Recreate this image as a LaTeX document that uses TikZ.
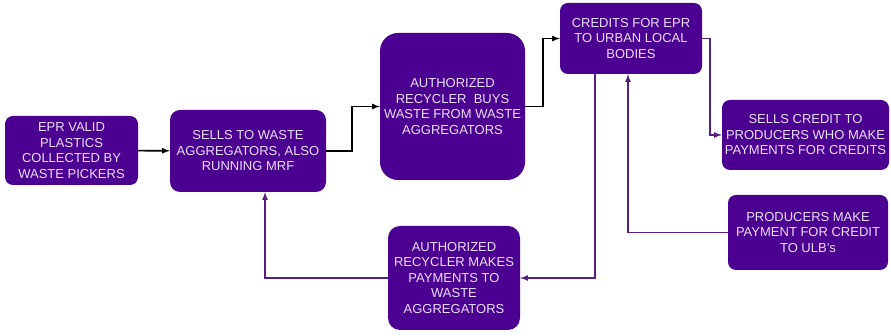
\documentclass[tikz,border=0pt]{standalone}
\usepackage{fontspec}
\setmainfont{Liberation Sans}
\definecolor{boxpurple}{RGB}{76,0,146}
\definecolor{boxtext}{RGB}{232,224,244}
\definecolor{linepurple}{RGB}{88,30,130}
\tikzset{>=latex}
\tikzset{
  stepbox/.style={fill=boxpurple, text=boxtext, rounded corners=8pt, align=center,
    inner sep=2pt, font=\fontsize{13}{15.5}\selectfont},
  blackline/.style={black, line width=1.6pt, ->},
  purpleline/.style={linepurple, line width=1.6pt, ->}
}

\begin{document}
\begin{tikzpicture}[x=1pt, y=1pt]
	%\draw[help lines] (0,0) grid (891,336);
	\useasboundingbox (0,0) rectangle (891,336);
	\node[stepbox, minimum width=133pt, minimum height=69pt] (pickers) at (71.5,185.5)
		{EPR VALID\\PLASTICS\\COLLECTED BY\\WASTE PICKERS};
	\node[stepbox, minimum width=156pt, minimum height=82pt, rounded corners=10pt] (aggr) at (248,185)
		{SELLS TO WASTE\\AGGREGATORS, ALSO\\RUNNING MRF};
	\node[stepbox, minimum width=145pt, minimum height=147pt, rounded corners=18pt] (buys) at (452.5,229.5)
		{AUTHORIZED\\RECYCLER\ \ BUYS\\WASTE FROM WASTE\\AGGREGATORS};
	\node[stepbox, minimum width=142pt, minimum height=71pt] (credits) at (631,297.5)
		{CREDITS FOR EPR\\TO URBAN LOCAL\\BODIES};
	\node[stepbox, minimum width=167pt, minimum height=70pt] (sells) at (805.5,201)
		{SELLS CREDIT TO\\PRODUCERS WHO MAKE\\PAYMENTS FOR CREDITS};
	\node[stepbox, minimum width=160pt, minimum height=75pt] (producers) at (808,103.5)
		{PRODUCERS MAKE\\PAYMENT FOR CREDIT\\TO ULB's};
	\node[stepbox, minimum width=132pt, minimum height=104pt, rounded corners=12pt] (payments) at (454,58)
		{AUTHORIZED\\RECYCLER MAKES\\PAYMENTS TO\\WASTE\\AGGREGATORS};
	% forward flow
	\draw[blackline] (pickers) -- (aggr);
	\draw[blackline] (aggr.east) -- ++(26,0) |- (buys.west);
	\draw[blackline] (buys.east) -- ++(18,0) |- (credits.west);
	\draw[purpleline] (credits.east) -- ++(8,0) |- (sells.west);
	% payments back
	\draw[purpleline] (producers.west) -| ([xshift=-3pt]credits.south);
	\draw[purpleline] ([xshift=-36pt]credits.south) |- (payments.east);
	\draw[purpleline] (payments.west) -| ([xshift=17pt]aggr.south);
\end{tikzpicture}
\end{document}
